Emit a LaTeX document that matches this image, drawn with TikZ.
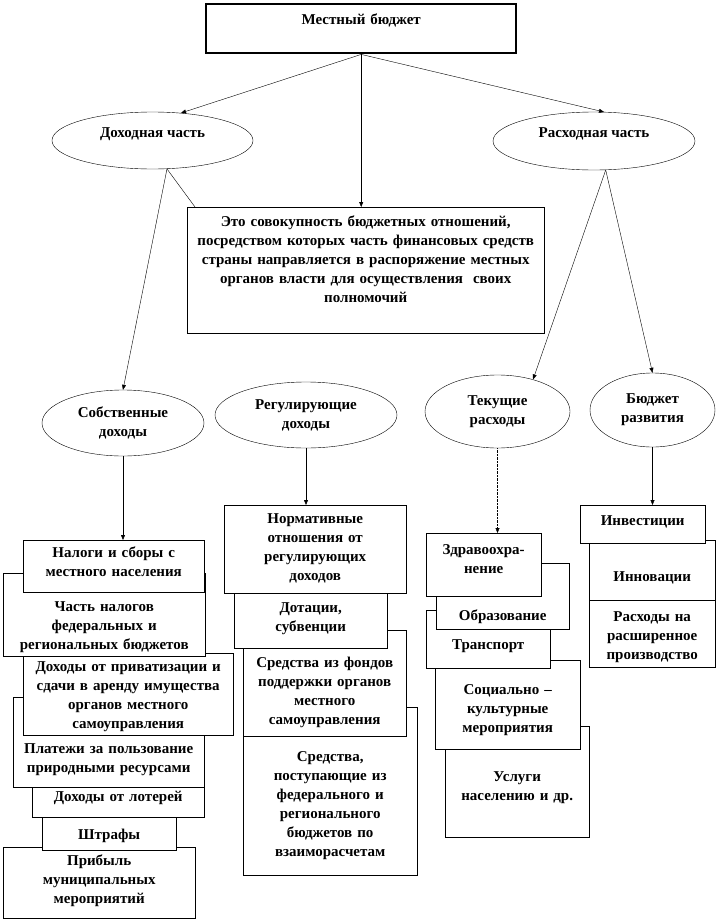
\documentclass[tikz,border=0pt]{standalone}
\usepackage{fontspec}
\setmainfont{Liberation Serif}
\usetikzlibrary{shapes.geometric,arrows.meta,shadows}

\begin{document}
\begin{tikzpicture}[x=1pt,y=-1pt,
	box/.style={draw,fill=white,anchor=north west,align=center,inner xsep=0pt,inner ysep=0pt,
		drop shadow={shadow xshift=1.2pt,shadow yshift=-1.2pt,fill=black!45,opacity=1},
		font=\fontsize{15}{19}\selectfont\bfseries},
	ov/.style={draw,ellipse,fill=white,align=center,inner sep=0pt,font=\fontsize{15}{19}\selectfont\bfseries},
	arr/.style={-{Triangle[length=5pt,width=4pt]}}]
		\useasboundingbox (0,0) rectangle (717,921);

		\node[box,line width=2.4pt,text width=310pt,text height=20pt,text depth=29pt] (mb) at (205,3) {Местный бюджет};

		\node[ov,minimum width=201pt,minimum height=57pt,text height=11pt,text depth=18pt] (dox) at (152.5,140.5) {Доходная часть};
		\node[ov,minimum width=202pt,minimum height=58pt,text height=11pt,text depth=18pt] (rsx) at (594,141) {Расходная часть};

		\node[box,text width=357pt,text height=19.5pt,text depth=106.5pt] (dsc) at (187,207)
		{Это совокупность бюджетных отношений,\\посредством которых часть финансовых средств\\
		страны направляется в распоряжение местных\\органов власти для осуществления \ своих\\полномочий};

		\node[ov,minimum width=162pt,minimum height=66pt] (sob) at (123,423) {Собственные\\доходы};
		\node[ov,minimum width=182pt,minimum height=66pt] (reg) at (306,415) {Регулирующие\\доходы};
		\node[ov,minimum width=145pt,minimum height=73pt] (tek) at (497.5,411.5) {Текущие\\расходы};
		\node[ov,minimum width=125pt,minimum height=74pt] (bdr) at (652.5,410) {Бюджет\\развития};

		% собственные доходы
		\node[box,text width=192pt,text height=18pt,text depth=53pt] (prb) at (3,847) {Прибыль\\муниципальных\\мероприятий};
		\node[box,text width=134pt,text height=34pt,text depth=11pt] (shtr) at (42,805) {Штрафы};
		\node[box,text width=172pt,text height=26pt,text depth=16pt] (lot) at (32,775) {Доходы от лотерей};
		\node[box,text width=191pt,text height=56pt,text depth=34pt] (plt) at (13,697) {Платежи за пользование\\природными ресурсами};
		\node[box,text width=210pt,text height=18pt,text depth=64pt] (prv) at (23,653) {Доходы от приватизации и\\сдачи в аренду имущества\\органов местного\\самоуправления};
		\node[box,text width=202pt,text height=38pt,text depth=45pt] (chn) at (3,573) {Часть налогов\\федеральных и\\региональных бюджетов};
		\node[box,text width=181pt,text height=17pt,text depth=35pt] (nal) at (23,540) {Налоги и сборы с\\местного населения};

		% регулирующие доходы
		\node[box,text width=174pt,text height=54pt,text depth=114pt] (vzm) at (243,707) {Средства,\\поступающие из\\федерального и\\регионального\\бюджетов по\\взаиморасчетам};
		\node[box,text width=163pt,text height=37pt,text depth=69pt] (fnd) at (243,630) {Средства из фондов\\поддержки органов\\местного\\самоуправления};
		\node[box,text width=153pt,text height=27pt,text depth=36pt] (dot) at (234,585) {Дотации,\\субвенции};
		\node[box,text width=182pt,text height=18pt,text depth=70pt] (nrm) at (224,505) {Нормативные\\отношения от\\регулирующих\\доходов};

		% текущие расходы
		\node[box,text width=144pt,text height=55pt,text depth=56pt] (usl) at (445,726) {Услуги\\населению и др.};
		\node[box,text width=145pt,text height=34pt,text depth=55pt] (soc) at (435,660) {Социально –\\культурные\\мероприятия};
		\node[box,text width=124pt,text height=39pt,text depth=19pt] (trn) at (426,610) {Транспорт};
		\node[box,text width=133pt,text height=57pt,text depth=9pt] (obr) at (436,563) {Образование};
		\node[box,text width=115pt,text height=21.5pt,text depth=41.5pt] (zdr) at (426,533) {Здравоохра-\\нение};

		% бюджет развития
		\node[box,text width=126pt,text height=21pt,text depth=46pt] (rsh) at (589,600) {Расходы на\\расширенное\\производство};
		\node[box,text width=126pt,text height=41pt,text depth=19pt] (inn) at (589,540) {Инновации};
		\node[box,text width=125pt,text height=20.5pt,text depth=17.5pt] (inv) at (580,505) {Инвестиции};

		\draw[arr] (mb.south) -- (dox.44);
		\draw[arr] (mb.south) -- (rsx.71);
		\draw[arr] (mb.south) -- (mb.south |- dsc.north);
		\draw (dox.-63) -- ([xshift=8pt]dsc.north west);
		\draw[arr] (dox.-63) -- (sob.north);
		\draw[arr] (rsx.-68) -- (tek.42);
		\draw[arr] (rsx.-68) -- (bdr.north);
		\draw[arr] (sob.south) -- (sob.south |- nal.north);
		\draw[arr] (reg.south) -- (reg.south |- nrm.north);
		\draw[arr,densely dotted] (tek.south) -- (tek.south |- zdr.north);
		\draw[arr] (bdr.south) -- (bdr.south |- inv.north);

\end{tikzpicture}
\end{document}
